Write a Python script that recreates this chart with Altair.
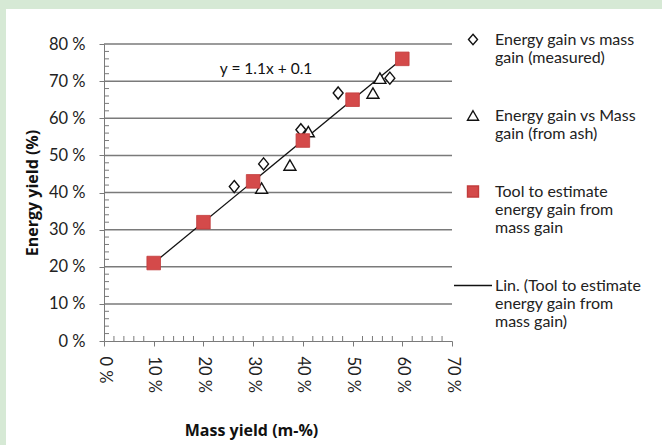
import altair as alt
import pandas as pd

# ---- data (fractions) ----
measured_x = [0.262, 0.321, 0.396, 0.471, 0.575]
measured_y = [0.416, 0.477, 0.569, 0.668, 0.708]
ash_x = [0.317, 0.374, 0.411, 0.541, 0.555]
ash_y = [0.412, 0.474, 0.564, 0.668, 0.708]
tool_x = [0.10, 0.20, 0.30, 0.40, 0.50, 0.60]
tool_y = [0.21, 0.32, 0.43, 0.54, 0.65, 0.76]

series_keys = ["measured", "ash", "tool", "lin"]
series_labels = [
    ["Energy gain vs mass", "gain (measured)"],
    ["Energy gain vs Mass", "gain (from ash)"],
    ["Tool to estimate", "energy gain from", "mass gain"],
    ["Lin. (Tool to estimate", "energy gain from", "mass gain)"],
]

x_ticks = [0, 0.1, 0.2, 0.3, 0.4, 0.5, 0.6, 0.7]
y_ticks = [0, 0.1, 0.2, 0.3, 0.4, 0.5, 0.6, 0.7, 0.8]
grid_y = [0.1, 0.2, 0.3, 0.4, 0.5, 0.6, 0.7, 0.8]
minor_x = [0.02, 0.04, 0.06, 0.08, 0.12, 0.14, 0.16, 0.18, 0.22, 0.24, 0.26, 0.28,
           0.32, 0.34, 0.36, 0.38, 0.42, 0.44, 0.46, 0.48, 0.52, 0.54, 0.56, 0.58,
           0.62, 0.64, 0.66, 0.68]
minor_y = [0.02, 0.04, 0.06, 0.08, 0.12, 0.14, 0.16, 0.18, 0.22, 0.24, 0.26, 0.28,
           0.32, 0.34, 0.36, 0.38, 0.42, 0.44, 0.46, 0.48, 0.52, 0.54, 0.56, 0.58,
           0.62, 0.64, 0.66, 0.68, 0.72, 0.74, 0.76, 0.78]

equation_text = ["y = 1.1x + 0.1"]
equation_x = [0.326]
equation_y = [0.732]

# ---- styling ----
W, H = 348, 297
FONT = "Lato"
TFONT = "Open Sans"
RED = "#d44a4a"
RED_EDGE = "#c23c3c"
GRID = "#7a7a7a"

DIAMOND_SIZE, TRI_SIZE, SQ_SIZE = 121, 144, 185
DIAMOND_PATH = "M0,-1.1L0.9,0L0,1.1L-0.9,0Z"

LEG_SIZE = 100          # common legend symbol size (s = 5 px per unit)
LEG_S = LEG_SIZE ** 0.5 / 2
LEG_SHIFT = 7.5 / LEG_S  # push symbols down to the first label line
d = LEG_SHIFT
legend_shapes = [
    f"M0,{-1.05 + d:.3f}L0.9,{d:.3f}L0,{1.05 + d:.3f}L-0.9,{d:.3f}Z",
    f"M0,{-0.95 + d:.3f}L1.1,{0.95 + d:.3f}L-1.1,{0.95 + d:.3f}Z",
    f"M-1.1,{-1.1 + d:.3f}H1.1V{1.1 + d:.3f}H-1.1Z",
    f"M-3.8,{d:.3f}H3.8",
]
legend_fill = ["#ffffff", "#ffffff", RED, "#ffffff"]
legend_stroke = ["#111111", "#111111", RED_EDGE, "#111111"]

meas_df = pd.DataFrame({"x": measured_x, "y": measured_y})
ash_df = pd.DataFrame({"x": ash_x, "y": ash_y})
tool_df = pd.DataFrame({"x": tool_x, "y": tool_y})
grid_df = pd.DataFrame({"y": grid_y})
mx_df = pd.DataFrame({"x": minor_x})
my_df = pd.DataFrame({"y": minor_y})
eq_df = pd.DataFrame({"x": equation_x, "y": equation_y, "t": equation_text})
leg_df = pd.DataFrame({"x": pd.Series([], dtype=float), "y": pd.Series([], dtype=float),
                       "series": pd.Series([], dtype=str)})

xs = alt.Scale(domain=[0, 0.7], nice=False, zero=False)
ys = alt.Scale(domain=[0, 0.8], nice=False, zero=False)

pct = "round(datum.value*100) + ' %'"
label_expr = " : ".join(
    f"datum.label == '{k}' ? {lab}" for k, lab in zip(series_keys, series_labels)
) + " : datum.label"

X = alt.X("x:Q", scale=xs, axis=alt.Axis(
    values=x_ticks, labelExpr=pct, title="Mass yield (m-%)", labelAngle=90,
    grid=False, tickSize=5, labelPadding=10, titlePadding=30, labelOverlap=False,
    titleX=147, titleAlign="center",
    domainColor=GRID, tickColor=GRID, zindex=1))
Y = alt.Y("y:Q", scale=ys, axis=alt.Axis(
    values=y_ticks, labelExpr=pct, title="Energy yield (%)",
    grid=False, tickSize=5, labelPadding=14, titlePadding=8, labelOverlap=False,
    labelBound=False, labelFlush=False,
    domainColor=GRID, tickColor=GRID, zindex=1))

# white panel over green frame
panel = alt.Chart(pd.DataFrame({"a": [0]})).mark_rect(color="#ffffff").encode(
    x=alt.value(-98), x2=alt.value(558), y=alt.value(-35), y2=alt.value(401)
)

grid = alt.Chart(grid_df).mark_rule(color=GRID, strokeWidth=1.5).encode(
    y=Y, x=alt.value(0), x2=alt.value(W)
)
minor_xt = alt.Chart(mx_df).mark_rule(color=GRID, strokeWidth=1).encode(
    x=X, y=alt.value(H), y2=alt.value(H - 5)
)
minor_yt = alt.Chart(my_df).mark_rule(color=GRID, strokeWidth=1).encode(
    y=Y, x=alt.value(0), x2=alt.value(5)
)

trend = alt.Chart(tool_df).transform_regression("x", "y").mark_line(
    color="#111111", strokeWidth=1.3
).encode(x=X, y=Y)

meas = alt.Chart(meas_df).mark_point(
    shape=DIAMOND_PATH, size=DIAMOND_SIZE, filled=False, stroke="#111111",
    strokeWidth=1.4, fill="#ffffff", opacity=1
).encode(x=X, y=Y)
ash = alt.Chart(ash_df).mark_point(
    shape="triangle-up", size=TRI_SIZE, filled=False, stroke="#111111",
    strokeWidth=1.4, fill="#ffffff", opacity=1
).encode(x=X, y=Y)
tool = alt.Chart(tool_df).mark_point(
    shape="square", size=SQ_SIZE, filled=True, fill=RED, stroke=RED_EDGE,
    strokeWidth=0.8, opacity=1
).encode(x=X, y=Y)

legend_layer = alt.Chart(leg_df).mark_point(filled=False, strokeWidth=1.4, opacity=1,
                                            size=LEG_SIZE).encode(
    x=X,
    y=Y,
    shape=alt.Shape("series:N", scale=alt.Scale(domain=series_keys, range=legend_shapes),
                    legend=alt.Legend(
                        title=None, orient="none", legendX=361, legendY=-20,
                        labelExpr=label_expr, labelFont=FONT, labelFontSize=16,
                        labelColor="#222222", labelLimit=400, labelOffset=14,
                        rowPadding=34, symbolStrokeWidth=1.4, symbolSize=LEG_SIZE,
                        padding=0, labelBaseline="top")),
    fill=alt.Fill("series:N", scale=alt.Scale(domain=series_keys, range=legend_fill)),
    stroke=alt.Stroke("series:N", scale=alt.Scale(domain=series_keys, range=legend_stroke)),
)

eq = alt.Chart(eq_df).mark_text(font=FONT, fontSize=15.5, color="#111111").encode(
    x=X, y=Y, text="t:N"
)

chart = alt.layer(panel, grid, minor_xt, minor_yt, trend, meas, ash, tool, legend_layer, eq).properties(
    width=W, height=H,
    background="#d6e9d5",
    padding={"left": 6, "top": 9, "right": 0, "bottom": 0},
).configure(
    style={"guide-label": {"lineHeight": 18}}
).configure_view(stroke=None).configure_axis(
    labelFont=FONT, labelFontSize=16.5, labelColor="#222222",
    titleFont=TFONT, titleFontSize=16, titleFontWeight="bold", titleColor="#111111",
)

chart.save("out.html", embed_options={"renderer": "svg", "actions": False})
